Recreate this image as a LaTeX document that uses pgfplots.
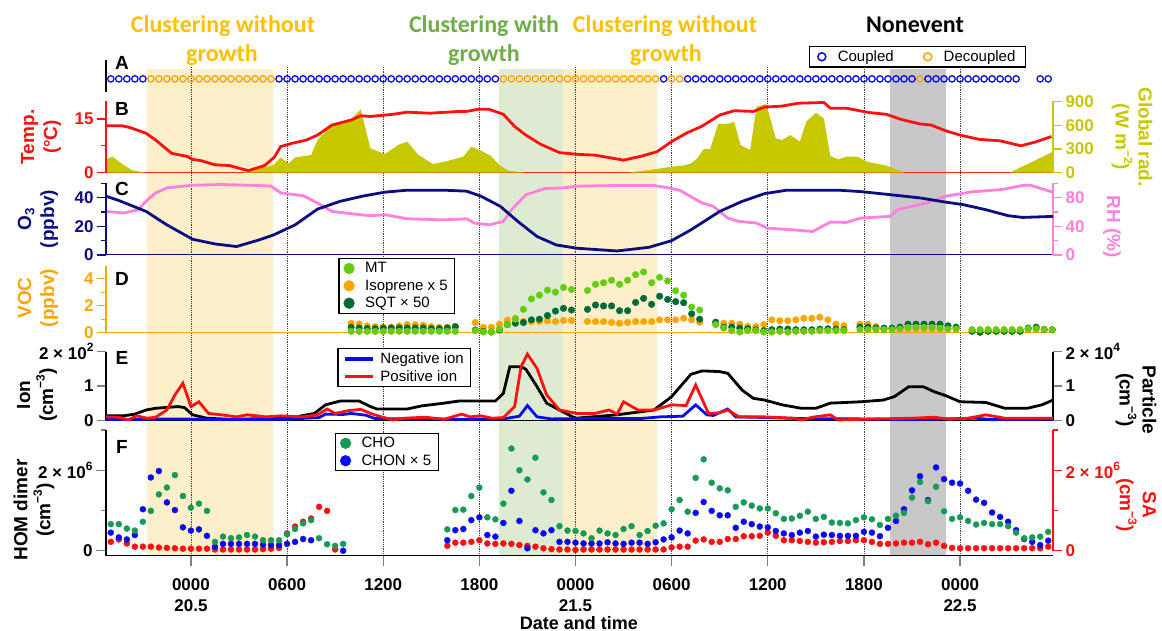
\documentclass[border=0pt]{standalone}
\usepackage{fontspec}
\setmainfont{Liberation Sans}
\newfontfamily\calib{Carlito}
\usepackage{pgfplots}
\pgfplotsset{compat=1.18}
\definecolor{cHY}{HTML}{FFC000}
\definecolor{cHG}{HTML}{70AD47}
\definecolor{cBgY}{HTML}{FCEFC9}
\definecolor{cBgG}{HTML}{DEEBD3}
\definecolor{cBgK}{HTML}{C8C8C8}
\definecolor{cOlv}{HTML}{C8C800}
\definecolor{cNavy}{HTML}{0C0C84}
\definecolor{cPink}{HTML}{FF80DD}
\definecolor{cOrg}{HTML}{FFA500}
\definecolor{cMT}{HTML}{66CC11}
\definecolor{cSQT}{HTML}{006B35}
\definecolor{cCHO}{HTML}{169A55}
\definecolor{cBlu}{HTML}{0A0AF0}
\definecolor{cRed}{HTML}{FF1010}
\newcommand\tickfont{\fontsize{17}{20}\selectfont\bfseries}
\newcommand\lblfont{\fontsize{19}{23}\selectfont\bfseries}
\newcommand\sups[1]{\raisebox{0.45em}{\fontsize{12}{12}\selectfont #1}}
\pgfplotsset{
 panel/.style={anchor=south west, scale only axis, width=947pt, xmin=-5.3, xmax=53.8, clip=false,
   tick align=outside, major tick length=9pt, minor tick length=5pt,
   axis line style={line width=1.5pt, -}, tick style={line width=1.3pt},
   yticklabel style={font=\tickfont}, xticklabel style={font=\tickfont},
   every outer x axis line/.append style={-}, every outer y axis line/.append style={-}},
 leg/.style={legend cell align=left, legend style={draw=black, line width=1.2pt, fill=white,
   font=\fontsize{15}{17}\selectfont, inner xsep=5pt, inner ysep=2pt, row sep=1.5pt,
   /tikz/every odd column/.append style={column sep=9pt}}},
}
\begin{document}
\begin{tikzpicture}[x=1pt,y=1pt]
\path[use as bounding box] (0,0) rectangle (1162,631);
% background shading and dotted lines
\begin{axis}[at={(106pt,75.3pt)}, anchor=south west, scale only axis, width=947pt, height=486.7pt,
  xmin=-5.3, xmax=53.8, ymin=0, ymax=1, hide axis, clip=false]
\fill[cBgY] (axis cs:-2.75,0) rectangle (axis cs:5.15,1);
\fill[cBgG] (axis cs:19.25,0) rectangle (axis cs:23.25,1);
\fill[cBgY] (axis cs:23.25,0) rectangle (axis cs:29.1,1);
\fill[cBgK] (axis cs:43.6,0) rectangle (axis cs:47.1,1);
\pgfplotsinvokeforeach{0,6,12,18,24,30,36,42,48}{\draw[densely dotted, black!75, line width=0.8pt] (axis cs:#1,0) -- (axis cs:#1,1.005);}
\end{axis}
% Panel A
\begin{axis}[panel, leg, at={(106pt,539pt)}, height=32pt, ymin=0, ymax=1, axis x line=none, xtick=\empty,
  axis y line*=left, ytick=\empty, y axis line style={line width=1.2pt},
  legend columns=2, legend style={at={(0.9715,1.4375)}, anchor=north east, inner xsep=8pt, /tikz/every odd column/.append style={column sep=10pt}, /tikz/every even column/.append style={column sep=28pt}}]
\addplot[forget plot, only marks, mark=o, mark size=3.2pt, color=cBlu, mark options={line width=1.3pt}] coordinates {
(-5,0.41) (-4.5,0.41) (-4,0.41) (-3.5,0.41) (-3,0.41)
(5.5,0.41) (6,0.41) (6.5,0.41) (7,0.41) (7.5,0.41) (8,0.41) (8.5,0.41) (9,0.41) (9.5,0.41) (10,0.41) (10.5,0.41) (11,0.41) (11.5,0.41) (12,0.41) (12.5,0.41) (13,0.41) (13.5,0.41) (14,0.41) (14.5,0.41) (15,0.41) (15.5,0.41) (16,0.41) (16.5,0.41) (17,0.41) (17.5,0.41) (18,0.41) (18.5,0.41) (19,0.41)
(29.5,0.41)
(31,0.41) (31.5,0.41) (32,0.41) (32.5,0.41) (33,0.41) (33.5,0.41) (34,0.41) (34.5,0.41) (35,0.41) (35.5,0.41) (36,0.41) (36.5,0.41) (37,0.41) (37.5,0.41) (38,0.41) (38.5,0.41) (39,0.41) (39.5,0.41) (40,0.41) (40.5,0.41) (41,0.41) (41.5,0.41) (42,0.41) (42.5,0.41) (43,0.41) (43.5,0.41) (44,0.41) (44.5,0.41) (45,0.41)
(46,0.41) (46.5,0.41) (47,0.41) (47.5,0.41) (48,0.41) (48.5,0.41) (49,0.41) (49.5,0.41) (50,0.41) (50.5,0.41) (51,0.41) (51.5,0.41)
(53,0.41) (53.5,0.41)};
\addplot[forget plot, only marks, mark=o, mark size=3.2pt, color=cOrg, mark options={line width=1.3pt}] coordinates {
(-2.5,0.41) (-2,0.41) (-1.5,0.41) (-1,0.41) (-0.5,0.41) (0,0.41) (0.5,0.41) (1,0.41) (1.5,0.41) (2,0.41) (2.5,0.41) (3,0.41) (3.5,0.41) (4,0.41) (4.5,0.41) (5,0.41)
(19.5,0.41) (20,0.41) (20.5,0.41) (21,0.41) (21.5,0.41) (22,0.41) (22.5,0.41) (23,0.41) (23.5,0.41) (24,0.41) (24.5,0.41) (25,0.41) (25.5,0.41) (26,0.41) (26.5,0.41) (27,0.41) (27.5,0.41) (28,0.41) (28.5,0.41) (29,0.41)
(30,0.41) (30.5,0.41) (45.5,0.41)};
\addlegendimage{only marks, mark=o, mark size=4pt, color=cBlu, mark options={line width=1.5pt}}
\addlegendimage{only marks, mark=o, mark size=4pt, color=cOrg, mark options={line width=1.5pt}}
\legend{Coupled, Decoupled}
\end{axis}
% Panel B: global radiation (right)
\begin{axis}[panel, at={(106pt,458.3pt)}, height=72pt, ymin=0, ymax=912,
  axis y line*=right, axis x line*=bottom, xtick=\empty,
  ytick={0,300,600,900}, yticklabels={0,300,600,900},
  y axis line style={cOlv}, x axis line style={cRed, line width=1pt}, ytick style={cOlv}, yticklabel style={text=cOlv}]
\addplot[fill=cOlv, draw=none] coordinates {
(-5.3,169) (-4.9,203) (-4.2,97) (-3.7,34) (-2.9,0) (3.2,0) (5.16,97) (5.6,194) (6.1,118) (6.5,194) (7.5,224) (7.9,414) (8.8,604) (10.0,680) (10.6,803) (11.2,308) (12.1,237) (13.0,359) (13.5,393) (14.2,224) (15.1,110) (16.0,148) (17.0,203) (17.5,330) (18.1,279) (18.7,215) (19.3,89) (19.8,25) (20.9,0) (27.25,0) (28.9,42) (30.0,76) (30.7,89) (31.2,118) (31.6,182) (32.0,300) (32.4,300) (32.9,617) (33.5,617) (33.9,646) (34.3,351) (34.9,287) (35.3,836) (35.9,870) (36.5,435) (36.9,414) (37.4,477) (38.0,393) (38.4,646) (39.0,760) (39.5,688) (39.9,211) (40.4,169) (40.9,203) (41.6,203) (42.2,139) (43.4,89) (44.55,0) (51.1,0) (53.8,266)} \closedcycle;
\end{axis}
% Panel B: temperature (left)
\begin{axis}[panel, at={(106pt,458.3pt)}, height=72pt, ymin=0, ymax=20.1,
  axis y line*=left, axis x line=none, xtick=\empty, ytick={0,15}, yticklabels={0,15}, minor ytick={7.5},
  y axis line style={cRed}, ytick style={cRed}, yticklabel style={text=cRed}]
\addplot[cRed, line width=2.8pt] coordinates {
(-5.3,13.1) (-4.3,13.1) (-3.8,12.6) (-2.8,11.0) (-2.2,9.1) (-1.2,5.4) (-0.2,4.5) (0.1,3.7) (0.6,3.4) (1.5,2.2) (2.4,2.0) (3.2,1.0) (3.6,0.6) (4.6,2.0) (5.2,4.3) (5.6,7.3) (6.3,8.2) (7.2,9.1) (7.9,10.5) (8.8,13.3) (10.0,14.7) (10.6,15.9) (11.2,15.7) (12.6,16.3) (13.5,16.9) (14.9,16.6) (16.7,17.1) (17.2,17.1) (17.9,17.7) (18.6,17.7) (19.5,16.3) (20.2,12.9) (20.9,10.5) (21.8,8.0) (23.0,5.6) (24.2,5.1) (25.2,4.9) (27.0,3.5) (28.2,4.7) (29.1,5.9) (30.0,8.7) (30.9,11.0) (31.9,13.0) (33.0,16.1) (33.9,17.3) (35.1,17.1) (35.8,18.3) (36.9,18.6) (37.9,19.4) (39.5,19.6) (39.9,18.0) (40.9,18.0) (42.3,16.8) (43.4,16.3) (44.3,14.9) (45.5,13.6) (46.2,13.3) (47.1,11.7) (48.0,10.5) (49.2,9.3) (50.5,8.9) (51.8,7.5) (52.8,8.7) (53.7,10.1)};
\end{axis}
% Panel C: RH (right)
\begin{axis}[panel, at={(106pt,376pt)}, height=71.7pt, ymin=0, ymax=100,
  axis y line*=right, axis x line*=bottom, xtick=\empty, ytick={0,40,80}, yticklabels={0,40,80}, minor ytick={20,60,100},
  y axis line style={cPink}, x axis line style={cNavy, line width=1pt}, ytick style={cPink}, yticklabel style={text=cPink}]
\addplot[cPink, line width=2.8pt] coordinates {
(-5.3,60.8) (-4.2,58.5) (-3.3,63) (-2.8,75) (-2.2,86.6) (-1.5,93.6) (0.1,97.3) (1.9,98.3) (4.25,96.9) (5.0,96) (5.6,86.6) (7.0,82.8) (7.9,72.5) (8.8,60.8) (10.2,57.1) (11.2,54.8) (12.1,56.2) (13.5,50.5) (15.8,49) (17.2,50.5) (17.7,44.5) (18.6,42.1) (19.5,46.8) (20.0,63) (20.9,84) (22.1,92.7) (23.2,93.6) (24.1,96) (26.6,96.9) (28.9,96.9) (29.8,93.6) (30.5,90.3) (31.9,72.5) (32.6,67.9) (33.5,51.5) (34.2,46.8) (35.3,44.5) (36.0,37.4) (37.6,35) (38.8,32.8) (39.9,45.9) (40.9,45.4) (41.8,51.5) (43.6,53.8) (44.1,63) (45.0,67.9) (45.9,72.5) (47.1,81.9) (48.7,88) (50.6,91.3) (51.9,96.9) (52.4,97.3) (53.8,87.5)};
\end{axis}
% Panel C: O3 (left)
\begin{axis}[panel, at={(106pt,376pt)}, height=71.7pt, ymin=0, ymax=50,
  axis y line*=left, axis x line=none, xtick=\empty, ytick={0,20,40}, yticklabels={0,20,40}, minor ytick={10,30,50},
  y axis line style={cNavy}, ytick style={cNavy}, yticklabel style={text=cNavy}]
\addplot[cNavy, line width=2.8pt] coordinates {
(-5.3,41) (-4.5,38) (-2.8,30.4) (-1.5,21) (0.1,11) (1.5,7.7) (2.85,5.9) (4.25,10.5) (5.16,14) (6.5,21) (7.9,32) (9.3,37.4) (10.7,41) (12.1,43.8) (13.5,45.2) (15.8,45.2) (17.2,44.5) (18.1,41) (19.3,34) (20.4,23.4) (21.6,12.9) (22.8,7.0) (24.1,4.7) (26.6,2.8) (28.6,5.4) (30.0,10) (31.2,17.5) (33.0,30.4) (34.4,37.4) (35.8,42.8) (37.2,45.2) (40.4,45.2) (41.8,44.2) (43.6,42.1) (45.5,39.8) (46.9,37.2) (48.2,35.1) (49.6,31.6) (51.0,27.4) (51.9,26.2) (53.8,26.9)};
\end{axis}
% Panel D: VOC
\begin{axis}[panel, leg, at={(106pt,298.3pt)}, height=67pt, ymin=0, ymax=4.96,
  axis y line*=left, axis x line*=bottom, xtick=\empty, ytick={0,2,4}, yticklabels={0,2,4}, minor ytick={1,3},
  y axis line style={cOrg}, x axis line style={cOrg, line width=1.2pt}, ytick style={cOrg}, yticklabel style={text=cOrg},
  legend style={at={(0.2455,1.115)}, anchor=north west}]
\addplot[forget plot, only marks, mark=*, mark size=3.3pt, color=cOrg] coordinates {
(10,0.7) (10.5,0.65) (11,0.5) (11.5,0.45) (12,0.4) (12.5,0.4) (13,0.5) (13.5,0.6) (14,0.6) (14.5,0.55) (15,0.45) (15.5,0.4) (16,0.4) (16.5,0.45)
(17.75,0.75) (18.25,0.4) (18.75,0.4) (19.25,0.63) (19.75,0.93) (20.25,1.07) (20.75,0.83) (21.25,0.83) (21.75,0.83) (22.25,0.88) (22.75,0.83) (23.25,0.9) (23.75,0.9) (24.75,0.83) (25.25,0.83) (25.75,0.83) (26.25,0.76) (26.75,0.7) (27.25,0.76) (27.75,0.83) (28.25,0.83) (28.75,0.83) (29.25,0.95) (29.75,0.95) (30.25,0.95) (30.75,1.07) (31.25,0.95) (31.75,0.76) (32.75,0.7) (33.25,0.7) (33.75,0.7) (34.25,0.63) (34.75,0.46) (35.25,0.46) (35.75,0.59) (36.25,0.95) (36.75,0.88) (37.25,0.88) (37.75,0.95) (38.25,1.07) (38.75,1.07) (39.25,1.15) (39.75,0.95) (40.25,0.63) (40.75,0.51) (41.75,0.63) (42.25,0.63) (42.75,0.46) (43.25,0.3) (43.75,0.3) (44.25,0.3) (44.75,0.3) (45.25,0.3) (45.75,0.3) (46.25,0.3) (46.75,0.3) (47.25,0.3) (47.75,0.3) (48.75,0.2) (49.25,0.2) (49.75,0.2) (50.25,0.2) (50.75,0.2) (51.25,0.2) (51.75,0.2) (52.25,0.25) (52.75,0.25) (53.25,0.27) (53.75,0.22)};
\addplot[forget plot, only marks, mark=*, mark size=3.3pt, color=cSQT] coordinates {
(10,0.4) (10.5,0.35) (11,0.3) (11.5,0.3) (12,0.35) (12.5,0.35) (13,0.35) (13.5,0.35) (14,0.35) (14.5,0.35) (15,0.3) (15.5,0.3) (16,0.35) (16.5,0.45)
(17.75,0.2) (18.25,0.1) (18.75,0.05) (19.25,0.2) (19.75,0.6) (20.25,0.7) (20.75,0.75) (21.25,0.95) (21.75,1.0) (22.25,1.27) (22.75,1.6) (23.25,1.8) (23.75,1.68) (24.75,1.73) (25.25,2.05) (25.75,1.98) (26.25,1.98) (26.75,1.63) (27.25,1.63) (27.75,2.24) (28.25,2.54) (28.75,2.1) (29.25,2.7) (29.75,2.46) (30.25,2.3) (30.75,2.22) (31.25,1.4) (31.75,1.0) (32.75,0.78) (33.25,0.41) (33.75,0.41) (34.25,0.34) (34.75,0.29) (35.25,0.22) (35.75,0.15) (36.25,0.22) (36.75,0.27) (37.25,0.27) (37.75,0.22) (38.25,0.22) (38.75,0.22) (39.25,0.27) (39.75,0.29) (40.25,0.27) (40.75,0.22) (41.75,0.41) (42.25,0.41) (42.75,0.34) (43.25,0.34) (43.75,0.34) (44.25,0.41) (44.75,0.63) (45.25,0.63) (45.75,0.63) (46.25,0.63) (46.75,0.63) (47.25,0.51) (47.75,0.41) (48.75,0.1) (49.25,0.03) (49.75,0.1) (50.25,0.1) (50.75,0.1) (51.25,0.1) (51.75,0.1) (52.25,0.34) (52.75,0.41) (53.25,0.22) (53.75,0.22)};
\addplot[forget plot, only marks, mark=*, mark size=3.3pt, color=cMT] coordinates {
(10,0.1) (10.5,0.1) (11,0.1) (11.5,0.1) (12,0.1) (12.5,0.1) (13,0.1) (13.5,0.1) (14,0.1) (14.5,0.1) (15,0.1) (15.5,0.1) (16,0.1) (16.5,0.1)
(17.75,0.15) (18.25,0.05) (18.75,0.05) (19.25,0.27) (19.75,0.6) (20.25,1.0) (20.75,1.73) (21.25,2.5) (21.75,2.78) (22.25,3.15) (22.75,3.0) (23.25,3.35) (23.75,3.2) (24.75,3.12) (25.25,3.58) (25.75,3.7) (26.25,3.88) (26.75,3.58) (27.25,3.88) (27.75,4.3) (28.25,4.5) (28.75,3.7) (29.25,4.1) (29.75,3.83) (30.25,3.1) (30.75,2.78) (31.25,1.9) (31.75,1.68) (32.75,0.6) (33.25,0.34) (33.75,0.15) (34.25,0.05) (34.75,0.15) (35.25,0.15) (35.75,0.05) (36.25,0.05) (36.75,0.1) (37.25,0.05) (37.75,0.1) (38.25,0.1) (38.75,0.1) (39.25,0.15) (39.75,0.15) (40.25,0.15) (40.75,0.15) (41.75,0.22) (42.25,0.22) (42.75,0.22) (43.25,0.22) (43.75,0.22) (44.25,0.27) (44.75,0.39) (45.25,0.39) (45.75,0.39) (46.25,0.39) (46.75,0.34) (47.25,0.27) (47.75,0.27) (48.75,0.22) (49.25,0.22) (49.75,0.22) (50.25,0.22) (50.75,0.22) (51.25,0.22) (51.75,0.22) (52.25,0.29) (52.75,0.29) (53.25,0.22) (53.75,0.22)};
\addlegendimage{only marks, mark=*, mark size=5pt, color=cMT}
\addlegendimage{only marks, mark=*, mark size=5pt, color=cOrg}
\addlegendimage{only marks, mark=*, mark size=5pt, color=cSQT}
\legend{MT, Isoprene x 5, SQT × 50}
\end{axis}
% Panel E: particle (right)
\begin{axis}[panel, at={(106pt,210.7pt)}, height=68.6pt, ymin=0, ymax=2,
  axis y line*=right, axis x line*=bottom, xtick=\empty, ytick={0,1,2}, yticklabels={0,1,{2 × 10\sups{4}}}]
\addplot[black, line width=2.8pt] coordinates {
(-5.3,0.13) (-4.2,0.13) (-3.5,0.18) (-2.8,0.3) (-2.2,0.35) (-0.8,0.4) (-0.4,0.37) (0.1,0.16) (1.0,0.06) (2.4,0.03) (6.1,0.06) (7.7,0.2) (8.4,0.45) (9.3,0.56) (10.5,0.56) (11.2,0.4) (11.6,0.33) (13.5,0.33) (14.4,0.42) (15.8,0.5) (16.7,0.56) (19.0,0.56) (19.5,0.79) (19.9,1.56) (20.6,1.56) (20.9,1.49) (21.6,0.98) (22.2,0.5) (23.2,0.25) (24.0,0.06) (26.6,0.16) (28.9,0.3) (30.0,0.69) (31.2,1.34) (31.9,1.44) (33.0,1.42) (33.5,1.37) (34.4,0.88) (35.1,0.64) (35.8,0.59) (36.9,0.45) (38.1,0.35) (39.0,0.35) (39.9,0.5) (41.8,0.54) (43.2,0.59) (43.9,0.69) (44.8,0.98) (45.7,0.98) (46.4,0.83) (47.1,0.72) (48.0,0.54) (49.6,0.52) (50.8,0.35) (52.2,0.35) (53.1,0.45) (53.8,0.59)};
\end{axis}
% Panel E: ions (left)
\begin{axis}[panel, leg, at={(106pt,210.7pt)}, height=68.6pt, ymin=0, ymax=2,
  axis y line*=left, axis x line=none, xtick=\empty, ytick={0,1,2}, yticklabels={0,1,{2 × 10\sups{2}}},
  legend style={at={(0.2443,1.054)}, anchor=north west, /tikz/every odd column/.append style={column sep=4pt}},
  legend image code/.code={\draw[#1, line width=3.5pt] (0pt,0pt) -- (28pt,0pt);}]
\addplot[cBlu, line width=2.8pt] coordinates {
(-5.3,0.02) (-1.0,0.04) (2.0,0.02) (6.0,0.03) (8.0,0.08) (8.4,0.18) (9.5,0.17) (10.0,0.2) (10.9,0.15) (11.5,0.05) (14.0,0.04) (17.0,0.03) (19.5,0.04) (20.5,0.12) (21.0,0.43) (21.6,0.1) (22.5,0.04) (24.5,0.05) (28.0,0.05) (29.3,0.1) (30.7,0.12) (31.5,0.45) (32.2,0.16) (32.6,0.14) (33.5,0.33) (34.0,0.1) (36.0,0.08) (38.0,0.05) (42.0,0.04) (45.0,0.02) (49.0,0.06) (50.0,0.02) (53.8,0.03)};
\addplot[cRed, line width=2.8pt] coordinates {
(-5.3,0.1) (-4.5,0.09) (-3.9,0.01) (-3.4,0.13) (-2.7,0.06) (-2.2,0.09) (-1.5,0.3) (-1.0,0.74) (-0.5,1.08) (0.0,0.4) (0.5,0.54) (1.1,0.2) (1.9,0.16) (2.85,0.1) (3.5,0.16) (4.7,0.1) (5.6,0.13) (7.0,0.1) (7.9,0.16) (8.5,0.33) (9.0,0.2) (9.8,0.28) (10.6,0.32) (11.2,0.2) (11.9,0.1) (12.6,0.01) (13.3,0.06) (14.6,0.09) (15.8,0.03) (16.9,0.18) (17.4,0.1) (18.1,0.13) (18.8,0.06) (19.5,0.08) (20.2,0.4) (20.6,1.56) (21.0,1.93) (21.6,1.51) (22.2,0.74) (23.0,0.3) (24.1,0.2) (25.2,0.2) (26.1,0.3) (26.6,0.18) (27.0,0.54) (27.9,0.3) (28.9,0.3) (30.0,0.45) (30.9,0.43) (31.5,1.03) (32.3,0.2) (33.0,0.22) (33.5,0.3) (34.2,0.1) (35.8,0.1) (37.6,0.06) (38.1,0.01) (38.8,0.09) (39.9,0.16) (40.4,0.01) (42.7,0.04) (45.0,0.06) (46.4,0.09) (47.3,0.03) (48.5,0.06) (49.6,0.16) (50.8,0.06) (53.8,0.06)};
\legend{Negative ion, Positive ion}
\end{axis}
% Panel F: SA (right)
\begin{axis}[panel, at={(106pt,80.3pt)}, height=120.7pt, ymin=0, ymax=3,
  axis y line*=right, axis x line=none, xtick=\empty, ytick={0,2}, yticklabels={0,{2 × 10\sups{6}}}, minor ytick={1,3},
  y axis line style={cRed}, ytick style={cRed}, yticklabel style={text=cRed}]
\addplot[only marks, mark=*, mark size=3pt, color=cRed] coordinates {
(-5,0.22) (-4.5,0.28) (-4,0.18) (-3.5,0.1) (-3,0.1) (-2.5,0.1) (-2,0.08) (-1.5,0.07) (-1,0.06) (-0.5,0.05) (0,0.05) (0.5,0.05) (1,0.05) (1.5,0.03) (2,0.03) (2.5,0.03) (3,0.03) (3.5,0.03) (4,0.03) (4.5,0.04) (5,0.05) (5.5,0.07) (6,0.43) (6.5,0.6) (7,0.72) (7.5,0.8) (8,1.09) (8.5,0.99) (9,0.03)
(16,0.12) (16.5,0.2) (17,0.2) (17.5,0.22) (18,0.26) (18.5,0.18) (19,0.17) (19.5,0.18) (20,0.17) (20.5,0.14) (21,0.12) (21.5,0.1) (22,0.06) (22.5,0.04) (23,0.03) (23.5,0.03) (24,0.02) (24.5,0.03) (25,0.03) (25.5,0.03) (26,0.03) (26.5,0.03) (27,0.03) (27.5,0.03) (28,0.03) (28.5,0.03) (29,0.03) (29.5,0.03) (30,0.08) (30.5,0.1) (31,0.1) (31.5,0.25) (32,0.28) (32.5,0.22) (33,0.22) (33.5,0.29) (34,0.29) (34.5,0.36) (35,0.36) (35.5,0.37) (36,0.45) (36.5,0.37) (37,0.26) (37.5,0.26) (38,0.24) (38.5,0.22) (39,0.2) (39.5,0.21) (40,0.22) (40.5,0.24) (41,0.24) (41.5,0.26) (42,0.26) (42.5,0.22) (43,0.17) (43.5,0.17) (44,0.18) (44.5,0.2) (45,0.2) (45.5,0.22) (46,0.16) (46.5,0.2) (47,0.12) (47.5,0.07) (48,0.06) (48.5,0.06) (49,0.06) (49.5,0.06) (50,0.06) (50.5,0.06) (51,0.06) (51.5,0.06) (52,0.06) (52.5,0.06) (53,0.06) (53.5,0.1)};
\end{axis}
% Panel F: HOM dimers (left)
\begin{axis}[panel, leg, at={(106pt,75.3pt)}, height=125.7pt, ymin=-0.124, ymax=3,
  axis y line*=left, axis x line*=bottom, ytick={0,2}, yticklabels={0,{2 × 10\sups{6}}}, minor ytick={1,3},
  xtick={0,6,12,18,24,30,36,42,48}, major tick length=10pt,
  xticklabels={{0000\\20.5},0600,1200,1800,{0000\\21.5},0600,1200,1800,{0000\\22.5}},
  xticklabel style={align=center, font=\fontsize{17}{21}\selectfont\bfseries, yshift=-9pt},
  legend style={at={(0.2418,0.9785)}, anchor=north west}]
\addplot[forget plot, only marks, mark=*, mark size=3pt, color=cBlu] coordinates {
(-5,0.45) (-4.5,0.33) (-4,0.28) (-3.5,0.39) (-3,1.03) (-2.5,1.82) (-2,1.98) (-1.5,1.2) (-1,1.01) (-0.5,0.58) (0,0.5) (0.5,0.53) (1,0.37) (1.5,0.1) (2,0.17) (2.5,0.17) (3,0.17) (3.5,0.17) (4,0.17) (4.5,0.15) (5,0.14) (5.5,0.14) (6,0.17) (6.5,0.22) (7,0.29) (7.5,0.26) (9.5,0.0)
(16,0.26) (16.5,0.51) (17,0.54) (17.5,0.76) (18,0.83) (18.5,0.39) (19,0.35) (19.5,0.69) (20,1.49) (20.5,0.74) (21,0.06) (21.5,0.51) (22,0.43) (22.5,0.51) (23,0.22) (23.5,0.22) (24,0.2) (24.5,0.18) (25,0.18) (25.5,0.18) (26,0.21) (26.5,0.18) (27,0.17) (27.5,0.2) (28,0.2) (28.5,0.17) (29,0.21) (29.5,0.28) (30,0.33) (30.5,0.5) (31,0.43) (31.5,0.94) (32,1.21) (32.5,0.99) (33,0.88) (33.5,0.88) (34,0.57) (34.5,0.72) (35,0.66) (35.5,0.6) (36,0.58) (36.5,0.49) (37,0.43) (37.5,0.39) (38,0.45) (38.5,0.49) (39,0.35) (39.5,0.4) (40,0.39) (40.5,0.37) (41,0.37) (41.5,0.37) (42,0.47) (42.5,0.45) (43,0.36) (43.5,0.57) (44,0.74) (44.5,1.03) (45,1.5) (45.5,1.85) (46,1.26) (46.5,2.07) (47,1.78) (47.5,1.69) (48,1.67) (48.5,1.49) (49,1.27) (49.5,1.19) (50,0.95) (50.5,0.84) (51,0.72) (51.5,0.51) (52,0.29) (52.5,0.22) (53,0.14) (53.5,0.25)};
\addplot[forget plot, only marks, mark=*, mark size=3pt, color=cCHO] coordinates {
(-5,0.66) (-4.5,0.66) (-4,0.55) (-3.5,0.5) (-3,0.72) (-2.5,0.99) (-2,1.4) (-1.5,1.57) (-1,1.88) (-0.5,1.36) (0,1.07) (0.5,1.17) (1,0.99) (1.5,0.22) (2,0.35) (2.5,0.31) (3,0.33) (3.5,0.39) (4,0.35) (4.5,0.26) (5,0.26) (5.5,0.26) (6,0.41) (6.5,0.54) (7,0.68) (7.5,0.76) (8,0.31) (8.5,0.16) (9,0.12) (9.5,0.17)
(16,0.53) (16.5,1.01) (17,1.02) (17.5,1.36) (18,1.57) (18.5,0.83) (19,0.78) (19.5,1.17) (20,2.54) (20.5,2.0) (21,1.77) (21.5,2.31) (22,1.45) (22.5,1.26) (23,0.61) (23.5,0.5) (24,0.49) (24.5,0.43) (25,0.31) (25.5,0.5) (26,0.43) (26.5,0.39) (27,0.54) (27.5,0.61) (28,0.39) (28.5,0.49) (29,0.62) (29.5,0.68) (30,1.03) (30.5,1.26) (31,0.97) (31.5,1.81) (32,2.27) (32.5,1.69) (33,1.55) (33.5,1.5) (34,1.09) (34.5,1.2) (35,1.12) (35.5,1.05) (36,1.05) (36.5,0.93) (37,0.79) (37.5,0.8) (38,0.87) (38.5,0.97) (39,0.79) (39.5,0.84) (40,0.7) (40.5,0.69) (41,0.68) (41.5,0.76) (42,0.83) (42.5,0.78) (43,0.64) (43.5,0.79) (44,0.87) (44.5,0.94) (45,1.32) (45.5,1.71) (46,1.23) (46.5,1.59) (47,0.98) (47.5,0.79) (48,0.83) (48.5,0.74) (49,0.65) (49.5,0.69) (50,0.66) (50.5,0.66) (51,0.61) (51.5,0.45) (52,0.31) (52.5,0.33) (53,0.35) (53.5,0.47)};
\addlegendimage{only marks, mark=*, mark size=5pt, color=cCHO}
\addlegendimage{only marks, mark=*, mark size=5pt, color=cBlu}
\legend{CHO, CHON × 5}
\end{axis}
% headings
\node[anchor=base, text=cHY, font=\calib\fontsize{24}{28}\selectfont\bfseries] at (223,598) {Clustering without};
\node[anchor=base, text=cHY, font=\calib\fontsize{24}{28}\selectfont\bfseries] at (222,569) {growth};
\node[anchor=base, text=cHG, font=\calib\fontsize{24}{28}\selectfont\bfseries] at (484,598) {Clustering with};
\node[anchor=base, text=cHG, font=\calib\fontsize{24}{28}\selectfont\bfseries] at (484,569) {growth};
\node[anchor=base, text=cHY, font=\calib\fontsize{24}{28}\selectfont\bfseries] at (665,598) {Clustering without};
\node[anchor=base, text=cHY, font=\calib\fontsize{24}{28}\selectfont\bfseries] at (666,569) {growth};
\node[anchor=base, text=black, font=\calib\fontsize{24}{28}\selectfont\bfseries] at (915,598) {Nonevent};
% panel letters
\foreach \l/\yy in {A/568,B/522,C/442,D/352,E/273,F/184}
  \node[font=\fontsize{19}{21}\selectfont\bfseries] at (122,\yy) {\l};
% left labels
\node[rotate=90, align=center, text=cRed, font=\lblfont] at (41,494) {Temp.\\(°C)};
\node[rotate=90, align=center, text=cNavy, font=\lblfont] at (38,412) {O\textsubscript{3}\\(ppbv)};
\node[rotate=90, align=center, text=cOrg, font=\lblfont] at (38,333) {VOC\\(ppbv)};
\node[rotate=90, align=center, text=black, font=\lblfont] at (37,236) {Ion\\(cm\sups{−3})};
\node[rotate=90, align=center, text=black, font=\lblfont] at (34,121) {HOM dimer\\(cm\sups{−3})};
% right labels
\node[rotate=-90, align=center, text=cOlv, font=\lblfont] at (1132,494) {Global rad.\\(W m\sups{−2})};
\node[rotate=-90, align=center, text=cPink, font=\lblfont] at (1112,404) {RH (\%)};
\node[rotate=-90, align=center, text=black, font=\lblfont] at (1136,231) {Particle\\(cm\sups{−3})};
\node[rotate=-90, align=center, text=cRed, font=\lblfont] at (1136,126) {SA\\(cm\sups{−3})};
\node[font=\fontsize{18}{20}\selectfont\bfseries] at (579,8) {Date and time};
\end{tikzpicture}
\end{document}
